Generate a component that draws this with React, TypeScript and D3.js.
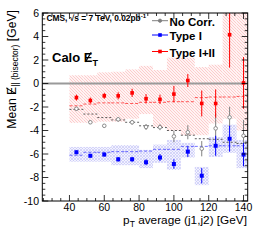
import React, { useLayoutEffect, useRef, useState } from "react";
import * as d3 from "d3";

const bins = [44, 52, 60, 68, 76, 84, 92, 100, 108, 116, 124, 132, 140];
const binHalf = 4;

const noCorr = [-2.15, -3.3, -3.6, -3.05, -3.3, -3.7, -3.72, -4.5, -4.15, -5.55, -3.82, -2.88, -4.45];
const noCorrErr = [0.15, 0.15, 0.15, 0.2, 0.2, 0.25, 0.25, 0.5, 0.6, 0.65, 1.3, 0.9, 1.35];
const noCorrRef = [-2.2, -2.6, -2.9, -3.1, -3.3, -3.6, -3.75, -4.0, -4.4, -4.7, -4.75, -5.0, -5.1];

const type1 = [-5.85, -6.15, -6.05, -6.45, -6.45, -6.7, -6.3, -6.85, -5.8, -7.85, -5.3, -4.7, -6.05];
const type1Err = [0.15, 0.15, 0.15, 0.2, 0.2, 0.25, 0.3, 0.4, 0.45, 0.65, 0.85, 1.1, 1.0];
const type1Ref = [-6.1, -5.85, -5.85, -5.8, -5.8, -5.75, -5.6, -5.6, -5.35, -5.35, -5.3, -5.3, -5.3];
const type1BandLo = [-6.65, -6.65, -6.65, -6.95, -6.95, -7.2, -6.75, -7.35, -6.3, -8.65, -6.25, -5.9, -7.2];
const type1BandHi = [-5.4, -5.4, -5.4, -5.25, -5.25, -5.65, -5.2, -4.8, -5.05, -7.1, -4.55, -3.5, -4.8];

const type12 = [-1.2, -1.45, -1.05, -1.05, -0.8, -1.3, -1.35, -0.9, 0.25, -1.7, -1.7, 4.15, 0.05];
const type12Err = [0.25, 0.25, 0.25, 0.3, 0.35, 0.4, 0.4, 0.7, 0.55, 1.1, 1.2, 2.8, 2.2];
const type12Ref = [-1.9, -1.75, -1.65, -1.65, -1.7, -1.6, -1.6, -1.55, -1.55, -1.2, -1.15, -1.15, -1.1];
const type12BandLo = [-3.35, -3.35, -3.25, -3.25, -3.0, -2.6, -3.7, -4.0, -4.4, -4.4, -3.4, -3.0, -4.0];
const type12BandHi = [0.7, 0.7, 0.95, 1.0, 1.2, 1.5, 1.15, 2.2, 2.2, 1.4, 1.6, 6.5, 6.5];

const xMajor = [40, 60, 80, 100, 120, 140];
const yMajor = [-10, -8, -6, -4, -2, 0, 2, 4, 6];

const W = 261;
const H = 240;
const L = 42.3, R = 247.7, T = 13, B = 201;

const FONT = "'Liberation Sans', Arial, Helvetica, sans-serif";

export default function App() {
  const x = d3.scaleLinear().domain([24.4, 142.4]).range([L, R]);
  const y = d3.scaleLinear().domain([-10, 6]).range([B, T]);

  const xMinor = d3.range(25, 142.4, 5);
  const yMinor = d3.range(-10, 6.01, 0.5);

  const yLabRef = useRef<SVGTextElement>(null);
  const caloRef = useRef<SVGTextElement>(null);
  const [ySlash, setYSlash] = useState<any>(null);
  const [cSlash, setCSlash] = useState<any>(null);

  useLayoutEffect(() => {
    try {
      if (yLabRef.current) {
        const r = yLabRef.current.getExtentOfChar(5);
        setYSlash(r ? { x: r.x, y: r.y, w: r.width, h: r.height } : null);
      }
      if (caloRef.current) {
        const r = caloRef.current.getExtentOfChar(5);
        setCSlash(r ? { x: r.x, y: r.y, w: r.width, h: r.height } : null);
      }
    } catch (e) {}
  }, []);

  const stepPath = (vals: number[]) =>
    bins.map((b, i) => `M${x(b - binHalf)},${y(vals[i])}H${x(b + binHalf)}`).join("");

  const bands = (lo: number[], hi: number[], fill: string) =>
    bins.map((b, i) => (
      <rect
        key={i}
        x={x(b - binHalf)}
        width={x(b + binHalf) - x(b - binHalf)}
        y={y(hi[i])}
        height={y(lo[i]) - y(hi[i])}
        fill={fill}
      />
    ));

  const errBars = (vals: number[], err: number[], color: string) =>
    bins.map((b, i) => (
      <line key={i} x1={x(b)} x2={x(b)} y1={y(vals[i] - err[i])} y2={y(vals[i] + err[i])} stroke={color} strokeWidth={1} />
    ));

  const grayC = "#808080";
  const blueC = "#0000ff";
  const redC = "#ff0000";

  return (
    <svg width={W} height={H} style={{ position: "absolute", left: 0, top: 0, background: "#fff" }} fontFamily={FONT}>
      <defs>
        <pattern id="hatchRed" patternUnits="userSpaceOnUse" width="3" height="3">
          <rect width="3" height="3" fill="#fff3f3" />
          <path d="M-1,2 l2,2 M0,0 l3,3 M2,-1 l2,2" stroke="#fbc2c2" strokeWidth="0.8" />
        </pattern>
        <pattern id="hatchBlue" patternUnits="userSpaceOnUse" width="3" height="3">
          <rect width="3" height="3" fill="#f3f3ff" />
          <path d="M-1,2 l2,2 M0,0 l3,3 M2,-1 l2,2" stroke="#c9c9f6" strokeWidth="0.7" />
          <path d="M-1,1 l2,-2 M0,3 l3,-3 M2,4 l2,-2" stroke="#c9c9f6" strokeWidth="0.7" />
        </pattern>
        <clipPath id="frame">
          <rect x={L} y={T} width={R - L} height={B - T} />
        </clipPath>
      </defs>
      <rect x={0} y={0} width={W} height={H} fill="#fff" />

      <g clipPath="url(#frame)">
        {bands(type12BandLo, type12BandHi, "url(#hatchRed)")}
        {bands(type1BandLo, type1BandHi, "url(#hatchBlue)")}
        <line x1={L} x2={R} y1={y(0)} y2={y(0)} stroke="#9a9a9a" strokeWidth={2} />
        <path d={stepPath(type12Ref)} stroke={redC} strokeWidth={0.8} strokeDasharray="3,2" fill="none" opacity={0.8} />
        <path d={stepPath(type1Ref)} stroke={blueC} strokeWidth={0.8} strokeDasharray="3,2" fill="none" opacity={0.7} />
        <path d={stepPath(noCorrRef)} stroke="#333" strokeWidth={0.8} strokeDasharray="2,2" fill="none" />
        {errBars(noCorr, noCorrErr, grayC)}
        {errBars(type1, type1Err, blueC)}
        {errBars(type12, type12Err, redC)}
        {bins.map((b, i) => (
          <circle key={"g" + i} cx={x(b)} cy={y(noCorr[i])} r={1.8} fill="#fff" stroke={grayC} strokeWidth={0.9} />
        ))}
        {bins.map((b, i) => (
          <rect key={"b" + i} x={x(b) - 2} y={y(type1[i]) - 2} width={4} height={4} fill={blueC} />
        ))}
        {bins.map((b, i) => (
          <rect key={"r" + i} x={x(b) - 1.8} y={y(type12[i]) - 1.8} width={3.6} height={3.6} fill={redC} />
        ))}
      </g>

      {/* frame and ticks */}
      <rect x={L} y={T} width={R - L} height={B - T} fill="none" stroke="#000" strokeWidth={1} />
      {xMinor.map((v, i) => {
        const major = xMajor.includes(v);
        const len = major ? 6 : 3;
        return (
          <g key={"xt" + i}>
            <line x1={x(v)} x2={x(v)} y1={B} y2={B - len} stroke="#000" strokeWidth={0.8} />
            <line x1={x(v)} x2={x(v)} y1={T} y2={T + len} stroke="#000" strokeWidth={0.8} />
          </g>
        );
      })}
      {yMinor.map((v, i) => {
        const major = Math.abs(v - Math.round(v / 2) * 2) < 1e-6;
        const len = major ? 6 : 3;
        return (
          <g key={"yt" + i}>
            <line x1={L} x2={L + len} y1={y(v)} y2={y(v)} stroke="#000" strokeWidth={0.8} />
            <line x1={R} x2={R - len} y1={y(v)} y2={y(v)} stroke="#000" strokeWidth={0.8} />
          </g>
        );
      })}
      {xMajor.map((v) => (
        <text key={"xl" + v} x={x(v)} y={211} fontSize={10.5} textAnchor="middle" fill="#000">
          {v}
        </text>
      ))}
      {yMajor.map((v) => (
        <text key={"yl" + v} x={39} y={y(v) + 3.8} fontSize={10.5} textAnchor="end" fill="#000">
          {v}
        </text>
      ))}

      {/* axis titles */}
      <text x={247} y={224} fontSize={11.8} textAnchor="end" fill="#000">
        p<tspan fontSize={8.5} dy={2.5}>T</tspan>
        <tspan dy={-2.5}> average (j1,j2) [GeV]</tspan>
      </text>
      <g transform="translate(15.5,10) rotate(-90)">
        <text ref={yLabRef} x={0} y={0} fontSize={12.2} textAnchor="end" fill="#000">
          Mean E<tspan fontSize={8.5} dy={2.5}>|| (bisector)</tspan>
          <tspan dy={-2.5}> [GeV]</tspan>
        </text>
        {ySlash && (
          <line
            x1={ySlash.x + ySlash.w * 0.15}
            y1={ySlash.y + ySlash.h * 0.82}
            x2={ySlash.x + ySlash.w * 0.85}
            y2={ySlash.y + ySlash.h * 0.12}
            stroke="#000"
            strokeWidth={1}
          />
        )}
      </g>

      {/* annotations */}
      <text x={46.5} y={20.5} fontSize={8.4} fontWeight="bold" fill="#000">
        CMS, √s = 7 TeV, 0.02pb<tspan fontSize={6} dy={-3}>-1</tspan>
      </text>
      <text ref={caloRef} x={52} y={62} fontSize={13} fontWeight="bold" fill="#000">
        Calo E<tspan fontSize={9} dy={3.5}>T</tspan>
      </text>
      {cSlash && (
        <line
          x1={cSlash.x + cSlash.w * 0.2}
          y1={cSlash.y + cSlash.h * 0.8}
          x2={cSlash.x + cSlash.w * 0.85}
          y2={cSlash.y + cSlash.h * 0.15}
          stroke="#000"
          strokeWidth={1.2}
        />
      )}

      {/* legend */}
      {[
        { label: "No Corr.", color: grayC, y: 20.7, kind: "circle" },
        { label: "Type I", color: blueC, y: 35, kind: "square" },
        { label: "Type I+II", color: redC, y: 51.5, kind: "square" },
      ].map((e) => (
        <g key={e.label}>
          <line x1={152} x2={168} y1={e.y} y2={e.y} stroke={e.color} strokeWidth={1} />
          {e.kind === "circle" ? (
            <circle cx={160} cy={e.y} r={1.6} fill={e.color} stroke={e.color} />
          ) : (
            <rect x={158.2} y={e.y - 1.8} width={3.6} height={3.6} fill={e.color} />
          )}
          <text x={169.5} y={e.y + 5} fontSize={11.5} fontWeight="bold" fill="#000">
            {e.label}
          </text>
        </g>
      ))}
    </svg>
  );
}
